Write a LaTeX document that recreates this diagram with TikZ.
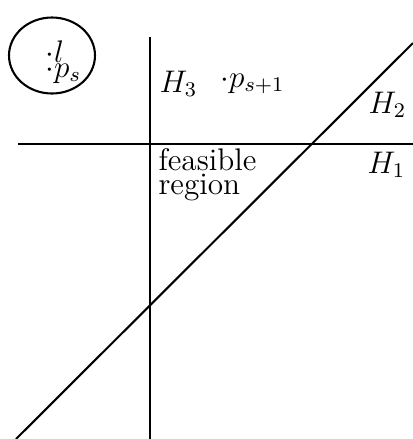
\documentclass[tikz,border=0pt]{standalone}
\begin{document}
\begin{tikzpicture}[x=0.384pt,y=-0.384pt,
  ln/.style={line width=0.8pt},
  lbl/.style={inner sep=0pt,anchor=base west,font=\fontsize{12}{14}\selectfont}]
\useasboundingbox (0,0) rectangle (413,439);
% halfplane boundaries
\coordinate (h1a) at (18,144);
\coordinate (h1b) at (413,144);
\coordinate (h3a) at (150,37);
\coordinate (h3b) at (150,439);
\coordinate (h2a) at (16,439);
\coordinate (h2b) at (413,43);
\draw[ln] (h1a) -- (h1b);
\draw[ln] (h3a) -- (h3b);
\draw[ln] (h2a) -- (h2b);
% circle
\draw[ln] (52,55.5) ellipse [x radius=43, y radius=38];
\node[lbl] (l) at (45,62) {$\cdot l$};
\node[lbl] (ps) at (45,77) {$\cdot p_s$};
% labels
\node[lbl] (H3) at (159,92) {$H_3$};
\node[lbl] (ps1) at (220,87) {$\cdot p_{s+1}$};
\node[lbl] (H2) at (368,113) {$H_2$};
\node[lbl] (H1) at (367,173) {$H_1$};
\node[lbl] (feas) at (158,170) {feasible};
\node[lbl] (reg) at (158,194) {region};
\end{tikzpicture}
\end{document}
